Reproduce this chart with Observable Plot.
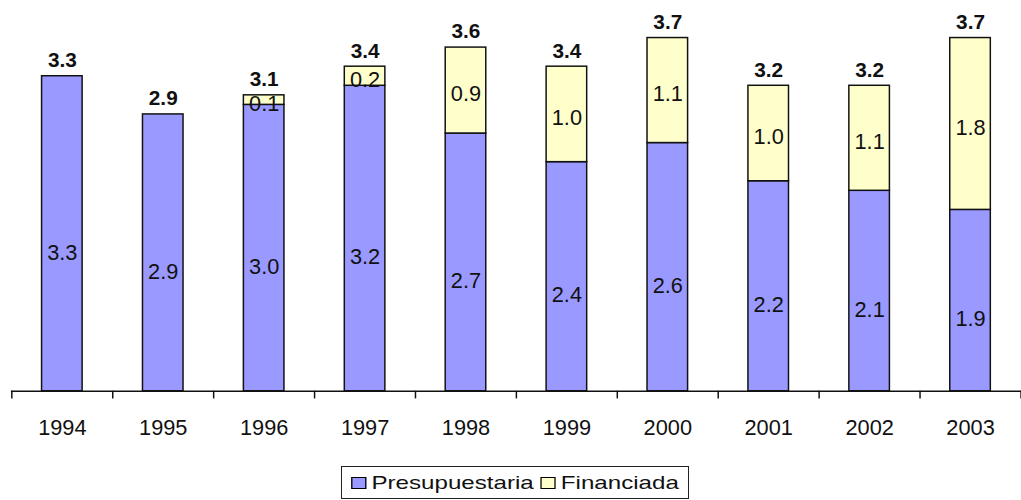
<!DOCTYPE html>
<html>
<head>
<meta charset="utf-8">
<script src="https://cdn.jsdelivr.net/npm/d3@7"></script>
<script src="https://cdn.jsdelivr.net/npm/@observablehq/plot@0.6"></script>
<style>
  html, body { margin: 0; padding: 0; background: #fff; overflow: hidden; }
  body { width: 1021px; height: 500px; font-family: "Liberation Sans", Arial, sans-serif; }
  #chart svg { display: block; }
  #legend {
    position: absolute; left: 341px; top: 466px; width: 348px; height: 33px;
    border: 1.5px solid #222; box-sizing: border-box; overflow: hidden;
    display: flex; align-items: center; justify-content: center;
    background: #fff;
  }
  #legend .inner { display: inline-block; white-space: nowrap; font-size: 19px; color: #111; transform: scaleX(1.27); }
  #legend .sw { display: inline-block; width: 10px; height: 10px; border: 1px solid #000; margin-right: 4px; vertical-align: 0px; }
</style>
</head>
<body>
<div id="chart"></div>
<div id="legend"><span class="inner"><span class="sw" style="background:#9999FF"></span>Presupuestaria <span class="sw" style="background:#FFFFCC"></span>Financiada</span></div>
<script>
const years = ["1994","1995","1996","1997","1998","1999","2000","2001","2002","2003"];
const presupuestaria = [3.3, 2.9, 3.0, 3.2, 2.7, 2.4, 2.6, 2.2, 2.1, 1.9];
const financiada = [0, 0, 0.1, 0.2, 0.9, 1.0, 1.1, 1.0, 1.1, 1.8];
const totals = [3.3, 2.9, 3.1, 3.4, 3.6, 3.4, 3.7, 3.2, 3.2, 3.7];
const seriesNames = ["Presupuestaria", "Financiada"];
const seriesColors = ["#9999FF", "#FFFFCC"];

const rows = [];
years.forEach((y, i) => {
  rows.push({year: y, series: seriesNames[0], value: presupuestaria[i], y1: 0, y2: presupuestaria[i]});
  if (financiada[i] > 0) rows.push({year: y, series: seriesNames[1], value: financiada[i], y1: presupuestaria[i], y2: presupuestaria[i] + financiada[i]});
});
const lowRows = rows.filter(d => d.series === seriesNames[0]);
const highRows = rows.filter(d => d.series === seriesNames[1]);
const totalRows = years.map((y, i) => ({year: y, total: totals[i]}));

const W = 1032, H = 455;
const step = (W - 11) / years.length;

const plot = Plot.plot({
  width: W,
  height: H,
  marginLeft: 11,
  marginRight: 0,
  marginTop: 9,
  marginBottom: 60,
  style: {fontFamily: "Liberation Sans, Arial, sans-serif", background: "#fff", overflow: "visible"},
  x: {domain: years, paddingInner: 0.6, paddingOuter: 0.3, axis: null},
  y: {domain: [0, 4], axis: null},
  color: {domain: seriesNames, range: seriesColors},
  marks: [
    Plot.rectY(rows, {x: "year", y1: "y1", y2: "y2", fill: "series", stroke: "#111", strokeWidth: 1.5}),
    Plot.text(lowRows, {x: "year", y: d => (d.y1 + d.y2) / 2, text: d => d.value.toFixed(1),
      dy: 19, fontSize: 22, fill: "#111"}),
    Plot.text(highRows, {x: "year", y: d => (d.y1 + d.y2) / 2, text: d => d.value.toFixed(1),
      dy: 4, fontSize: 22, fill: "#111"}),
    Plot.text(totalRows, {x: "year", y: "total", text: d => d.total.toFixed(1), dy: -16,
      fontSize: 21, fontWeight: "bold", fill: "#111"}),
    Plot.ruleY([0], {stroke: "#111", strokeWidth: 1.5}),
    Plot.ruleX(years, {x: d => d, dx: -step / 2, y1: 0, y2: -0.08, stroke: "#111", strokeWidth: 1.5}),
    Plot.ruleX([years[years.length - 1]], {x: d => d, dx: step / 2, y1: 0, y2: -0.08, stroke: "#111", strokeWidth: 1.5}),
    Plot.text(years, {x: d => d, y: 0, text: d => d, dy: 37, fontSize: 22, fill: "#111"})
  ]
});
document.getElementById("chart").appendChild(plot);
</script>
</body>
</html>
